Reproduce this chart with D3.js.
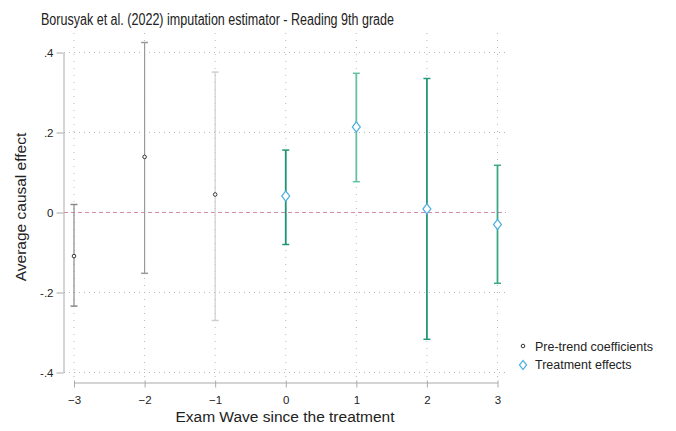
<!DOCTYPE html>
<html>
<head>
<meta charset="utf-8">
<script src="https://cdn.jsdelivr.net/npm/d3@7"></script>
<style>
  html, body { margin: 0; padding: 0; background: #fff; }
  svg { display: block; font-family: "Liberation Sans", Arial, sans-serif; }
</style>
</head>
<body>
<svg id="chart" width="676" height="431"></svg>
<script>
// Event-study estimates by exam wave relative to treatment
const preWaves = [-3, -2, -1];
const preEst   = [-0.109, 0.139, 0.045];
const preLow   = [-0.234, -0.152, -0.270];
const preHigh  = [0.020, 0.425, 0.351];

const postWaves = [0, 1, 2, 3];
const postEst   = [0.041, 0.214, 0.009, -0.030];
const postLow   = [-0.080, 0.077, -0.317, -0.177];
const postHigh  = [0.156, 0.348, 0.335, 0.118];

const xTicks = [-3, -2, -1, 0, 1, 2, 3];
const yTicks = [-0.4, -0.2, 0, 0.2, 0.4];
const yTickLabels = ["-.4", "-.2", "0", ".2", ".4"];

const titleText = "Borusyak et al. (2022) imputation estimator - Reading 9th grade";
const xTitle = "Exam Wave since the treatment";
const yTitle = "Average causal effect";
const legendLabels = ["Pre-trend coefficients", "Treatment effects"];

const svg = d3.select("#chart");

const x = d3.scaleLinear().domain([-3, 3]).range([74, 497.5]);
const y = d3.scaleLinear().domain([-0.4, 0.4]).range([372.5, 52.5]);

const gridColor = "#b8b8b8";

// dotted grid
svg.append("g").selectAll("line").data(yTicks.filter(d => d !== 0)).join("line")
  .attr("x1", 64).attr("x2", 506)
  .attr("y1", d => y(d)).attr("y2", d => y(d))
  .attr("stroke", gridColor).attr("stroke-width", 1)
  .attr("stroke-dasharray", "1,4");
svg.append("g").selectAll("line").data(xTicks).join("line")
  .attr("x1", d => x(d)).attr("x2", d => x(d))
  .attr("y1", 33).attr("y2", 377)
  .attr("stroke", gridColor).attr("stroke-width", 1)
  .attr("stroke-dasharray", "1,6");

// zero reference line
svg.append("line")
  .attr("x1", 64).attr("x2", 506)
  .attr("y1", y(0)).attr("y2", y(0))
  .attr("stroke", "#d58aab").attr("stroke-width", 1.2)
  .attr("stroke-dasharray", "4,3");

// y axis
const yAxis = d3.axisLeft(y).tickValues(yTicks)
  .tickFormat((d, i) => yTickLabels[i]).tickSize(7).tickSizeOuter(0).tickPadding(3);
const gy = svg.append("g").attr("transform", "translate(63.5,0)").call(yAxis);
gy.select(".domain").attr("stroke", "#aaa");
gy.selectAll(".tick line").attr("stroke", "#aaa");
gy.selectAll(".tick text").attr("font-size", 11.5).attr("fill", "#222")
  .attr("font-family", "Liberation Sans, Arial, sans-serif");

// x axis
const xAxis = d3.axisBottom(x).tickValues(xTicks).tickFormat(d3.format("d"))
  .tickSize(5).tickSizeOuter(0).tickPadding(8);
const gx = svg.append("g").attr("transform", "translate(0,382.5)").call(xAxis);
gx.select(".domain").attr("stroke", "#aaa");
gx.selectAll(".tick line").attr("stroke", "#aaa").attr("y1", -2);
gx.selectAll(".tick text").attr("font-size", 11.5).attr("fill", "#222")
  .attr("font-family", "Liberation Sans, Arial, sans-serif");

// error bars
function drawBars(waves, lo, hi, colors, width) {
  const g = svg.append("g");
  waves.forEach((w, i) => {
    const cx = x(w);
    g.append("line").attr("x1", cx).attr("x2", cx)
      .attr("y1", y(hi[i])).attr("y2", y(lo[i]))
      .attr("stroke", colors[i]).attr("stroke-width", width);
    [hi[i], lo[i]].forEach(v => {
      g.append("line").attr("x1", cx - 3.5).attr("x2", cx + 3.5)
        .attr("y1", y(v)).attr("y2", y(v))
        .attr("stroke", colors[i]).attr("stroke-width", 1.5);
    });
  });
}
drawBars(preWaves, preLow, preHigh, ["#8a8a8a", "#9a9a9a", "#cfcfcf"], 1.2);
drawBars(postWaves, postLow, postHigh, ["#1f9473", "#63c2a2", "#23987a", "#3aa886"], 1.8);

// point estimates
svg.append("g").selectAll("circle").data(preWaves).join("circle")
  .attr("cx", d => x(d)).attr("cy", (d, i) => y(preEst[i]))
  .attr("r", 1.8).attr("fill", "#fff").attr("stroke", "#333").attr("stroke-width", 1);

const diamond = d3.symbol().type(d3.symbolDiamond).size(30);
svg.append("g").selectAll("path").data(postWaves).join("path")
  .attr("transform", (d, i) => `translate(${x(d)},${y(postEst[i])}) scale(1.35,1)`)
  .attr("d", diamond)
  .attr("fill", "#fff").attr("stroke", "#4bb0e0").attr("stroke-width", 1);

// titles
svg.append("text").attr("x", 41).attr("y", 24.5).attr("text-anchor", "start")
  .attr("font-size", 16).attr("fill", "#222")
  .attr("textLength", 353).attr("lengthAdjust", "spacingAndGlyphs")
  .text(titleText);
svg.append("text").attr("x", 285).attr("y", 421.5).attr("text-anchor", "middle")
  .attr("font-size", 15.5).attr("fill", "#222").text(xTitle);
svg.append("text").attr("transform", "translate(25.5,207) rotate(-90)")
  .attr("text-anchor", "middle").attr("font-size", 15.5).attr("fill", "#222").text(yTitle);

// legend
const leg = svg.append("g");
leg.append("circle").attr("cx", 523).attr("cy", 346).attr("r", 1.8)
  .attr("fill", "#fff").attr("stroke", "#333");
leg.append("path").attr("transform", "translate(523,365) scale(1.35,1)")
  .attr("d", d3.symbol().type(d3.symbolDiamond).size(24))
  .attr("fill", "#fff").attr("stroke", "#4bb0e0");
leg.selectAll("text").data(legendLabels).join("text")
  .attr("x", 535).attr("y", (d, i) => 350.5 + i * 18.5)
  .attr("font-size", 12.5).attr("fill", "#222").text(d => d);
</script>
</body>
</html>
